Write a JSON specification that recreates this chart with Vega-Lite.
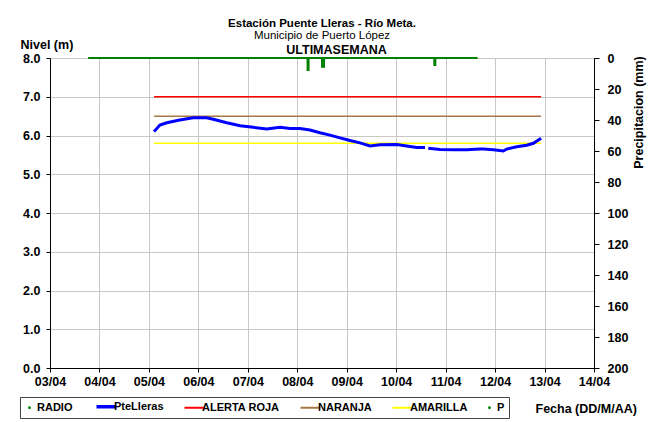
{
  "$schema": "https://vega.github.io/schema/vega-lite/v6.json",
  "width": 544,
  "height": 310,
  "autosize": {"type": "none"},
  "padding": {"left": 50, "top": 58, "right": 60, "bottom": 54},
  "background": "white",
  "title": {
    "text": "Estación Puente Lleras - Río Meta.",
    "subtitle": "Municipio de Puerto López",
    "font": "Liberation Sans",
    "fontSize": 11.5,
    "fontWeight": "bold",
    "color": "#000",
    "subtitleFont": "Liberation Sans",
    "subtitleFontSize": 11.5,
    "subtitleFontWeight": "normal",
    "subtitleColor": "#000",
    "subtitlePadding": 0,
    "anchor": "middle",
    "offset": -3
  },
  "config": {
    "view": {"stroke": null},
    "font": "Liberation Sans"
  },
  "datasets": {
    "nivel": [
      {"fecha": "2012-04-05T02:30", "nivel": 6.10, "serie": "PteLleras", "tramo": 1},
      {"fecha": "2012-04-05T05:20", "nivel": 6.27, "serie": "PteLleras", "tramo": 1},
      {"fecha": "2012-04-05T08:40", "nivel": 6.33, "serie": "PteLleras", "tramo": 1},
      {"fecha": "2012-04-05T15:00", "nivel": 6.40, "serie": "PteLleras", "tramo": 1},
      {"fecha": "2012-04-05T21:30", "nivel": 6.46, "serie": "PteLleras", "tramo": 1},
      {"fecha": "2012-04-06T04:00", "nivel": 6.46, "serie": "PteLleras", "tramo": 1},
      {"fecha": "2012-04-06T07:15", "nivel": 6.42, "serie": "PteLleras", "tramo": 1},
      {"fecha": "2012-04-06T13:45", "nivel": 6.33, "serie": "PteLleras", "tramo": 1},
      {"fecha": "2012-04-06T20:15", "nivel": 6.25, "serie": "PteLleras", "tramo": 1},
      {"fecha": "2012-04-07T02:40", "nivel": 6.21, "serie": "PteLleras", "tramo": 1},
      {"fecha": "2012-04-07T09:10", "nivel": 6.17, "serie": "PteLleras", "tramo": 1},
      {"fecha": "2012-04-07T15:40", "nivel": 6.21, "serie": "PteLleras", "tramo": 1},
      {"fecha": "2012-04-07T20:30", "nivel": 6.18, "serie": "PteLleras", "tramo": 1},
      {"fecha": "2012-04-08T01:20", "nivel": 6.18, "serie": "PteLleras", "tramo": 1},
      {"fecha": "2012-04-08T06:10", "nivel": 6.14, "serie": "PteLleras", "tramo": 1},
      {"fecha": "2012-04-08T11:00", "nivel": 6.07, "serie": "PteLleras", "tramo": 1},
      {"fecha": "2012-04-08T15:50", "nivel": 6.01, "serie": "PteLleras", "tramo": 1},
      {"fecha": "2012-04-08T20:45", "nivel": 5.94, "serie": "PteLleras", "tramo": 1},
      {"fecha": "2012-04-09T01:35", "nivel": 5.87, "serie": "PteLleras", "tramo": 1},
      {"fecha": "2012-04-09T06:25", "nivel": 5.81, "serie": "PteLleras", "tramo": 1},
      {"fecha": "2012-04-09T11:20", "nivel": 5.73, "serie": "PteLleras", "tramo": 1},
      {"fecha": "2012-04-09T16:10", "nivel": 5.76, "serie": "PteLleras", "tramo": 1},
      {"fecha": "2012-04-10T00:15", "nivel": 5.77, "serie": "PteLleras", "tramo": 1},
      {"fecha": "2012-04-10T05:05", "nivel": 5.73, "serie": "PteLleras", "tramo": 1},
      {"fecha": "2012-04-10T10:00", "nivel": 5.69, "serie": "PteLleras", "tramo": 1},
      {"fecha": "2012-04-10T14:00", "nivel": 5.69, "serie": "PteLleras", "tramo": 1},
      {"fecha": "2012-04-10T15:35", "nivel": 5.67, "serie": "PteLleras", "tramo": 2},
      {"fecha": "2012-04-10T21:15", "nivel": 5.64, "serie": "PteLleras", "tramo": 2},
      {"fecha": "2012-04-11T03:45", "nivel": 5.63, "serie": "PteLleras", "tramo": 2},
      {"fecha": "2012-04-11T10:15", "nivel": 5.63, "serie": "PteLleras", "tramo": 2},
      {"fecha": "2012-04-11T16:40", "nivel": 5.65, "serie": "PteLleras", "tramo": 2},
      {"fecha": "2012-04-11T18:15", "nivel": 5.65, "serie": "PteLleras", "tramo": 2},
      {"fecha": "2012-04-11T23:10", "nivel": 5.63, "serie": "PteLleras", "tramo": 2},
      {"fecha": "2012-04-12T04:00", "nivel": 5.60, "serie": "PteLleras", "tramo": 2},
      {"fecha": "2012-04-12T05:40", "nivel": 5.65, "serie": "PteLleras", "tramo": 2},
      {"fecha": "2012-04-12T10:30", "nivel": 5.71, "serie": "PteLleras", "tramo": 2},
      {"fecha": "2012-04-12T15:20", "nivel": 5.75, "serie": "PteLleras", "tramo": 2},
      {"fecha": "2012-04-12T18:35", "nivel": 5.80, "serie": "PteLleras", "tramo": 2},
      {"fecha": "2012-04-12T22:20", "nivel": 5.93, "serie": "PteLleras", "tramo": 2}
    ],
    "umbrales": [
      {"fecha": "2012-04-05T02:30", "nivel": 7.0, "serie": "ALERTA ROJA"},
      {"fecha": "2012-04-12T22:20", "nivel": 7.0, "serie": "ALERTA ROJA"},
      {"fecha": "2012-04-05T02:30", "nivel": 6.5, "serie": "NARANJA"},
      {"fecha": "2012-04-12T22:20", "nivel": 6.5, "serie": "NARANJA"},
      {"fecha": "2012-04-05T02:30", "nivel": 5.8, "serie": "AMARILLA"},
      {"fecha": "2012-04-12T22:20", "nivel": 5.8, "serie": "AMARILLA"}
    ],
    "precip": [
      {"fecha": "2012-04-03T18:30", "precip": 0, "serie": "RADIO"},
      {"fecha": "2012-04-08T05:00", "precip": 7.7, "serie": "RADIO"},
      {"fecha": "2012-04-08T05:30", "precip": 0, "serie": "RADIO"},
      {"fecha": "2012-04-08T12:00", "precip": 5.6, "serie": "RADIO"},
      {"fecha": "2012-04-08T13:00", "precip": 0, "serie": "RADIO"},
      {"fecha": "2012-04-10T18:30", "precip": 4.5, "serie": "RADIO"},
      {"fecha": "2012-04-10T19:00", "precip": 0, "serie": "RADIO"},
      {"fecha": "2012-04-11T15:30", "precip": 0, "serie": "RADIO"}
    ]
  },
  "layer": [
    {
      "encoding": {
        "x": {
          "field": "fecha",
          "type": "temporal",
          "scale": {"domain": [{"year": 2012, "month": 4, "date": 3}, {"year": 2012, "month": 4, "date": 14}]},
          "axis": {
            "orient": "bottom",
            "format": "%d/%m",
            "tickCount": {"interval": "day", "step": 1},
            "grid": true,
            "gridColor": "#c8c8c8",
            "gridWidth": 1,
            "domainColor": "#000",
            "domainWidth": 1,
            "tickColor": "#000",
            "tickSize": 4,
            "labelFont": "Liberation Sans",
            "labelFontSize": 12.5,
            "labelFontWeight": "bold",
            "labelColor": "#000",
            "labelPadding": 3,
            "labelFlush": false,
            "labelOverlap": false,
            "title": "Fecha (DD/M/AA)",
            "titleFont": "Liberation Sans",
            "titleFontSize": 12.5,
            "titleFontWeight": "bold",
            "titleColor": "#000",
            "titleX": 485,
            "titleY": 40,
            "titleAlign": "left",
            "titleBaseline": "middle"
          }
        },
        "y": {
          "field": "nivel",
          "type": "quantitative",
          "scale": {"domain": [0, 8], "nice": false, "zero": false},
          "axis": {
            "orient": "left",
            "values": [0, 1, 2, 3, 4, 5, 6, 7, 8],
            "format": ".1f",
            "grid": true,
            "gridColor": "#c8c8c8",
            "gridWidth": 1,
            "domainColor": "#000",
            "tickColor": "#000",
            "tickSize": 4,
            "labelPadding": 6,
            "labelFlush": false,
            "labelOverlap": false,
            "labelFont": "Liberation Sans",
            "labelFontSize": 12.5,
            "labelFontWeight": "bold",
            "labelColor": "#000",
            "title": "Nivel (m)",
            "titleFont": "Liberation Sans",
            "titleFontSize": 12.5,
            "titleFontWeight": "bold",
            "titleColor": "#000",
            "titleAngle": 0,
            "titleX": -30,
            "titleY": -10,
            "titleAlign": "left",
            "titleBaseline": "alphabetic"
          }
        },
        "color": {
          "field": "serie",
          "type": "nominal",
          "scale": {
            "domain": ["RADIO", "PteLleras", "ALERTA ROJA", "NARANJA", "AMARILLA", "P"],
            "range": ["#008000", "#0000ff", "#ff0000", "#a67845", "#ffff00", "#008000"]
          },
          "legend": {
            "orient": "none",
            "legendX": -30,
            "legendY": 339,
            "direction": "horizontal",
            "title": null,
            "symbolType": "stroke",
            "symbolSize": 400,
            "symbolStrokeWidth": 2,
            "labelFont": "Liberation Sans",
            "labelFontSize": 11,
            "labelFontWeight": "bold",
            "labelColor": "#000",
            "labelOffset": 2,
            "columnPadding": 16,
            "strokeColor": "#444",
            "fillColor": "#fff",
            "padding": 4,
            "encode": {
              "symbols": {
                "update": {
                  "shape": {"signal": "datum.value === 'RADIO' || datum.value === 'P' ? 'circle' : 'stroke'"},
                  "size": {"signal": "datum.value === 'RADIO' || datum.value === 'P' ? 8 : 400"},
                  "strokeWidth": {"signal": "datum.value === 'PteLleras' ? 3.5 : (datum.value === 'RADIO' || datum.value === 'P' ? 0 : 2)"},
                  "fill": {"signal": "datum.value === 'RADIO' || datum.value === 'P' ? '#008000' : 'transparent'"}
                }
              }
            }
          }
        }
      },
      "layer": [
        {
          "data": {"name": "umbrales"},
          "mark": {"type": "line", "strokeWidth": 1.5}
        },
        {
          "data": {"name": "nivel"},
          "mark": {"type": "line", "strokeWidth": 3},
          "encoding": {
            "detail": {"field": "tramo", "type": "nominal"}
          }
        }
      ]
    },
    {
      "data": {"name": "precip"},
      "mark": {"type": "line", "interpolate": "step-after", "strokeWidth": 2},
      "encoding": {
        "x": {
          "field": "fecha",
          "type": "temporal",
          "axis": {
            "orient": "top",
            "labels": false,
            "ticks": false,
            "domain": false,
            "grid": false,
            "title": "ULTIMASEMANA",
            "titleFont": "Liberation Sans",
            "titleFontSize": 12.5,
            "titleFontWeight": "bold",
            "titleColor": "#000",
            "titleX": 286,
            "titleY": -5,
            "titleAlign": "center",
            "titleBaseline": "alphabetic"
          }
        },
        "y": {
          "field": "precip",
          "type": "quantitative",
          "scale": {"domain": [0, 200], "reverse": true, "nice": false, "zero": false},
          "axis": {
            "orient": "right",
            "values": [0, 20, 40, 60, 80, 100, 120, 140, 160, 180, 200],
            "grid": false,
            "domainColor": "#000",
            "tickColor": "#000",
            "tickSize": 5,
            "labelPadding": 8,
            "labelFlush": false,
            "labelOverlap": false,
            "labelFont": "Liberation Sans",
            "labelFontSize": 12.5,
            "labelFontWeight": "bold",
            "labelColor": "#000",
            "title": "Precipitacion (mm)",
            "titleFont": "Liberation Sans",
            "titleFontSize": 12.5,
            "titleFontWeight": "bold",
            "titleColor": "#000",
            "titleAngle": 270,
            "titleX": 44,
            "titleY": 54,
            "titleAlign": "center",
            "titleBaseline": "middle"
          }
        },
        "color": {"field": "serie", "type": "nominal"}
      }
    }
  ],
  "resolve": {"scale": {"y": "independent"}, "axis": {"x": "independent"}}
}
